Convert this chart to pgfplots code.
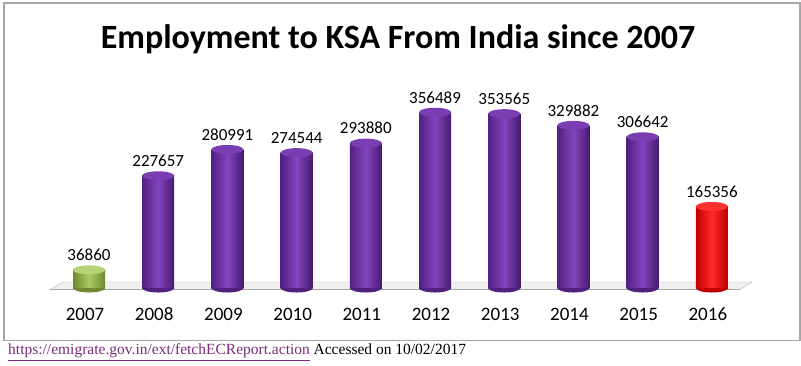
\documentclass[border=0pt]{standalone}
\usepackage{pgfplots}
\usepackage{pgfplotstable}
\pgfplotsset{compat=1.18}
\usepackage{fontspec}
\setmainfont{Carlito}
\newfontfamily\serifft{Liberation Serif}
\definecolor{purD}{HTML}{52207F}
\definecolor{purL}{HTML}{8444C0}
\definecolor{purT}{HTML}{7A3EB2}
\definecolor{grnD}{HTML}{6F8A2E}
\definecolor{grnL}{HTML}{AACB66}
\definecolor{grnT}{HTML}{B5D276}
\definecolor{redD}{HTML}{C00000}
\definecolor{redL}{HTML}{FF2A2A}
\definecolor{redT}{HTML}{FF3030}
\definecolor{linkc}{HTML}{7B2C7B}
\pgfdeclareplotmark{cyltop}{\pgfpathellipse{\pgfpointorigin}{\pgfpoint{16pt}{0pt}}{\pgfpoint{0pt}{4.5pt}}\pgfusepathqfill}
\pgfdeclareplotmark{cylbot}{\pgfpathmoveto{\pgfpoint{-16pt}{0pt}}\pgfpatharc{180}{360}{16pt and 4.5pt}\pgfpathclose\pgfusepathqfill}
\pgfplotstableread{
x y
0 36860
1 227657
2 280991
3 274544
4 293880
5 356489
6 353565
7 329882
8 306642
9 165356
}\datatable
\begin{document}
\begin{tikzpicture}
\useasboundingbox (0,0) rectangle (801pt,366pt);
\draw[gray!70, line width=1.2pt] (4pt,363pt) rectangle (800pt,25.5pt);
\node[anchor=base, font=\bfseries\fontsize{34}{40}\selectfont] at (398pt,317pt) {Employment to KSA From India since 2007};
\begin{axis}[at={(50pt,76.5pt)}, anchor=south west, scale only axis,
  width=702pt, height=198.7pt,
  xmin=-0.564, xmax=9.58, ymin=-3000, ymax=400000,
  clip=false,
  axis line style={draw=none}, tick style={draw=none},
  ytick=\empty, xtick={0,...,9},
  xticklabels={2007,2008,2009,2010,2011,2012,2013,2014,2015,2016},
  xticklabel style={font=\fontsize{19}{21}\selectfont, anchor=base, yshift=-31.5pt, xshift=-4pt},
]
% floor
\addplot[fill=gray!12, draw=gray!55] coordinates {(-0.564,-3000) (9.41,-3000) (9.58,12170) (-0.376,12170)} --cycle;
\addplot[draw=gray!70, line width=1.5pt] coordinates {(-0.564,-3000) (9.41,-3000)};
% bottoms
\addplot[only marks, mark=cylbot, mark options={fill=purD, draw=none}, restrict x to domain=0.5:8.5] table[x=x, y expr=0]{\datatable};
\addplot[only marks, mark=cylbot, mark options={fill=grnD, draw=none}, restrict x to domain=-0.5:0.5] table[x=x, y expr=0]{\datatable};
\addplot[only marks, mark=cylbot, mark options={fill=redD, draw=none}, restrict x to domain=8.5:9.5] table[x=x, y expr=0]{\datatable};
% bars, one plot per bar so each gets its own shading
\pgfplotsinvokeforeach{0.5:1.5,1.5:2.5,2.5:3.5,3.5:4.5,4.5:5.5,5.5:6.5,6.5:7.5,7.5:8.5}{
\addplot[ybar, bar width=32pt, bar shift=0pt, draw=none, left color=purD, right color=purD!85!black, middle color=purL, restrict x to domain=#1] table[x=x,y=y]{\datatable};
}
\addplot[ybar, bar width=32pt, bar shift=0pt, draw=none, left color=grnD, right color=grnD, middle color=grnL, restrict x to domain=-0.5:0.5] table[x=x,y=y]{\datatable};
\addplot[ybar, bar width=32pt, bar shift=0pt, draw=none, left color=redD, right color=redD, middle color=redL, restrict x to domain=8.5:9.5] table[x=x,y=y]{\datatable};
% tops
\addplot[only marks, mark=cyltop, mark options={fill=purT, draw=none}, restrict x to domain=0.5:8.5] table[x=x,y=y]{\datatable};
\addplot[only marks, mark=cyltop, mark options={fill=grnT, draw=none}, restrict x to domain=-0.5:0.5] table[x=x,y=y]{\datatable};
\addplot[only marks, mark=cyltop, mark options={fill=redT, draw=none}, restrict x to domain=8.5:9.5] table[x=x,y=y]{\datatable};
% labels
\addplot[draw=none, mark=none, point meta=y,
  nodes near coords={\pgfmathprintnumber[fixed, precision=0, 1000 sep={}, assume math mode=true]{\pgfplotspointmeta}},
  every node near coord/.append style={font=\fontsize{17}{19}\selectfont, text=black, yshift=5.5pt}]
  table[x=x,y=y]{\datatable};
\end{axis}
\node[anchor=base west, inner sep=0pt, font=\serifft\fontsize{15.5}{18}\selectfont] at (8pt,11pt) {\textcolor{linkc}{\underline{https://emigrate.gov.in/ext/fetchECReport.action}} Accessed on 10/02/2017};
\end{tikzpicture}
\end{document}
